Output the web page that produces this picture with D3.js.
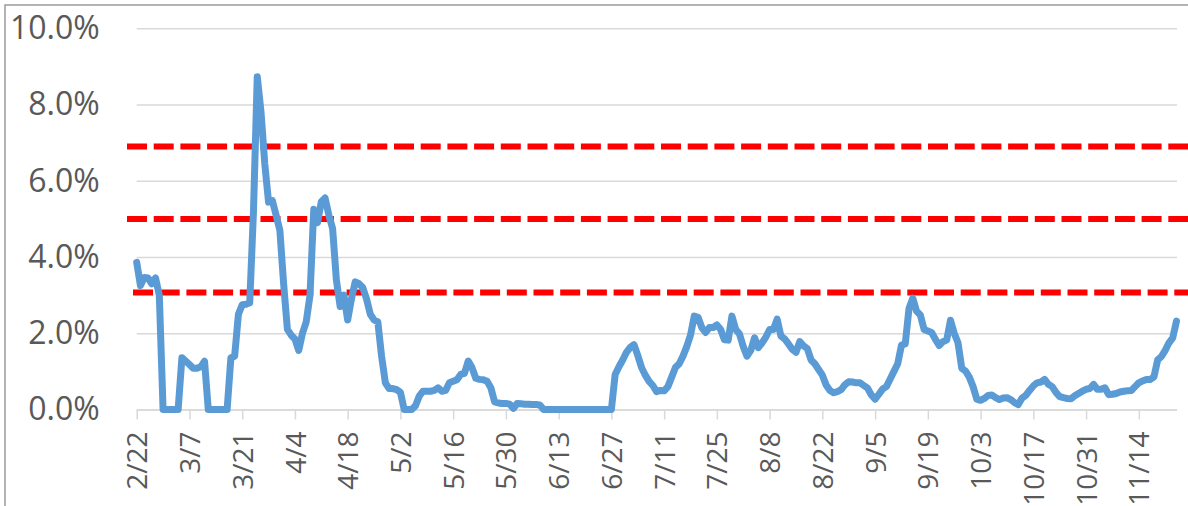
<!DOCTYPE html>
<html>
<head>
<meta charset="utf-8">
<script src="https://cdn.jsdelivr.net/npm/d3@7"></script>
<style>
  html, body { margin: 0; padding: 0; background: #fff; }
  svg { display: block; font-family: "Open Sans", sans-serif; }
</style>
</head>
<body>
<svg id="chart"></svg>
<script>
const width = 1188;
const height = 506;

// first day of the series, one value per day after that
const startDate = new Date(2020, 1, 22);

// daily values in % (2/22 .. 11/24)
const rate = [
  3.86, 3.25, 3.46, 3.45, 3.3, 3.45, 3.0, 0, 0, 0,
  0, 0, 1.36, 1.27, 1.18, 1.08, 1.08, 1.12, 1.27, 0,
  0, 0, 0, 0, 0, 1.36, 1.4, 2.5, 2.75, 2.76,
  2.8, 5.2, 8.73, 7.8, 6.44, 5.44, 5.48, 5.1, 4.7, 3.3,
  2.1, 1.95, 1.85, 1.55, 2.0, 2.3, 3.0, 5.25, 4.9, 5.45,
  5.55, 5.1, 4.75, 3.4, 2.7, 3.0, 2.35, 2.9, 3.35, 3.3,
  3.2, 2.9, 2.5, 2.35, 2.3, 1.4, 0.7, 0.55, 0.55, 0.52,
  0.45, 0, 0, 0, 0.1, 0.35, 0.48, 0.48, 0.48, 0.5,
  0.57, 0.48, 0.5, 0.7, 0.74, 0.78, 0.92, 0.95, 1.27, 1.1,
  0.82, 0.79, 0.78, 0.74, 0.57, 0.2, 0.17, 0.16, 0.16, 0.14,
  0.03, 0.16, 0.15, 0.14, 0.14, 0.13, 0.13, 0.12, 0, 0,
  0, 0, 0, 0, 0, 0, 0, 0, 0, 0,
  0, 0, 0, 0, 0, 0, 0, 0.92, 1.12, 1.3,
  1.5, 1.63, 1.7, 1.42, 1.1, 0.9, 0.74, 0.63, 0.47, 0.5,
  0.49, 0.6, 0.85, 1.1, 1.2, 1.4, 1.65, 1.95, 2.45, 2.42,
  2.15, 2.02, 2.15, 2.15, 2.22, 2.1, 1.83, 1.82, 2.45, 2.1,
  1.98, 1.65, 1.4, 1.55, 1.88, 1.62, 1.75, 1.9, 2.1, 2.1,
  2.37, 1.93, 1.85, 1.72, 1.58, 1.5, 1.78, 1.67, 1.6, 1.3,
  1.2, 1.05, 0.9, 0.64, 0.5, 0.44, 0.47, 0.52, 0.65, 0.73,
  0.72, 0.7, 0.7, 0.63, 0.56, 0.38, 0.27, 0.4, 0.54, 0.6,
  0.8, 1.0, 1.2, 1.69, 1.72, 2.65, 2.92, 2.58, 2.48, 2.1,
  2.06, 2.02, 1.84, 1.68, 1.78, 1.82, 2.34, 2.0, 1.75, 1.08,
  1.01, 0.85, 0.6, 0.27, 0.24, 0.29, 0.37, 0.38, 0.31, 0.26,
  0.3, 0.31, 0.26, 0.18, 0.13, 0.3, 0.37, 0.5, 0.62, 0.7,
  0.72, 0.79, 0.66, 0.6, 0.45, 0.34, 0.31, 0.29, 0.28, 0.36,
  0.42, 0.48, 0.53, 0.55, 0.66, 0.53, 0.53, 0.57, 0.39, 0.4,
  0.42, 0.46, 0.48, 0.49, 0.5, 0.6, 0.7, 0.75, 0.79, 0.79,
  0.85, 1.3, 1.39, 1.55, 1.75, 1.88, 2.32
];

// red dashed reference levels, in %
const thresholds = [6.9, 5.0, 3.07];

// y ticks in %
const yTicks = [0, 2, 4, 6, 8, 10];

const data = rate.map((v, i) => ({ date: d3.timeDay.offset(startDate, i), value: v }));
const xTickDates = d3.range(0, rate.length, 14).map((d) => d3.timeDay.offset(startDate, d));

const plotLeft = 136.7, plotRight = 1176.5, plotTop = 28.3, plotBottom = 409.5;

const x = d3.scaleTime()
  .domain([startDate, data[data.length - 1].date])
  .range([plotLeft, plotRight]);

const y = d3.scaleLinear().domain([0, 10]).range([plotBottom, plotTop]);

const svg = d3.select("#chart").attr("width", width).attr("height", height);

// outer chart border
svg.append("rect")
  .attr("x", 5).attr("y", 5)
  .attr("width", 1200).attr("height", 520)
  .attr("fill", "none")
  .attr("stroke", "#8c8c8c")
  .attr("stroke-width", 1.3);

// gridlines + y labels
const yAxis = d3.axisLeft(y)
  .tickValues(yTicks)
  .tickSize(-(1177 - plotLeft))
  .tickPadding(37)
  .tickFormat((d) => d3.format(".1f")(d) + "%");

svg.append("g")
  .attr("transform", `translate(${plotLeft},0)`)
  .call(yAxis)
  .call((g) => g.select(".domain").remove())
  .call((g) => g.selectAll("line").attr("stroke", "#d9d9d9").attr("stroke-width", 1.5))
  .call((g) => g.selectAll("text")
    .attr("fill", "#595959")
    .style("font-size", "32px")
    .style("font-family", "'Open Sans', sans-serif"));

// x axis
const xAxis = d3.axisBottom(x)
  .tickValues(xTickDates)
  .tickSize(10)
  .tickSizeOuter(0)
  .tickFormat(d3.timeFormat("%-m/%-d"));

svg.append("g")
  .attr("transform", `translate(0,${plotBottom})`)
  .call(xAxis)
  .call((g) => g.select(".domain").attr("stroke", "#d9d9d9").attr("stroke-width", 1.5)
    .attr("d", `M${plotLeft},0.5H1177`))
  .call((g) => g.selectAll("line").attr("stroke", "#d9d9d9").attr("stroke-width", 1.5))
  .call((g) => g.selectAll("text")
    .attr("fill", "#595959")
    .style("font-size", "28px")
    .style("font-family", "'Open Sans', sans-serif")
    .attr("text-anchor", "end")
    .attr("transform", "rotate(-90)")
    .attr("x", -22)
    .attr("y", 0)
    .attr("dy", "0.36em"));

// threshold lines
const thresholdStart = [127, 127, 133];
svg.append("g")
  .selectAll("line")
  .data(thresholds)
  .join("line")
  .attr("x1", (d, i) => thresholdStart[i])
  .attr("x2", width + 10)
  .attr("y1", (d) => y(d))
  .attr("y2", (d) => y(d))
  .attr("stroke", "#ff0000")
  .attr("stroke-width", 6)
  .attr("stroke-dasharray", "20,6.7");

// main series
const line = d3.line()
  .x((d) => x(d.date))
  .y((d) => y(d.value));

svg.append("path")
  .datum(data)
  .attr("d", line)
  .attr("fill", "none")
  .attr("stroke", "#5b9bd5")
  .attr("stroke-width", 7)
  .attr("stroke-linejoin", "round")
  .attr("stroke-linecap", "round");
</script>
</body>
</html>
